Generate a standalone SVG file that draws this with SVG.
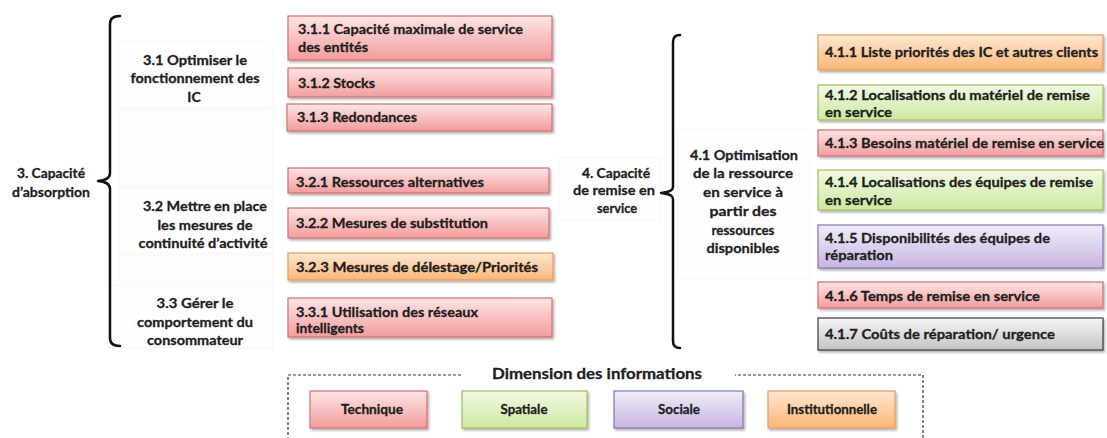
<svg xmlns="http://www.w3.org/2000/svg" width="1107" height="438" viewBox="0 0 1107 438">
<style>
text{font-family:Lato,"Open Sans","Liberation Sans",sans-serif;font-weight:bold;fill:#1e1e1e;stroke:#1e1e1e;stroke-width:0.3;}
.bt{font-size:14px;}
.lb{font-size:14px;text-anchor:middle;}
.lg{font-size:13px;text-anchor:middle;}
.tt{font-size:16px;text-anchor:middle;}
.box{stroke-width:1.2;filter:url(#sh);}
.red{fill:url(#gRed);stroke:#d36f72;}
.org{fill:url(#gOrg);stroke:#e9985a;}
.grn{fill:url(#gGrn);stroke:#9dbf62;}
.pur{fill:url(#gPur);stroke:#8a72b4;}
.gry{fill:url(#gGry);stroke:#3a3a3a;}
.brace{fill:none;stroke:#111;stroke-width:2.5;stroke-linejoin:round;stroke-linecap:round;}
.faint{fill:#fefefe;stroke:#f6f6f6;stroke-width:1;}
</style>
<defs>
<linearGradient id="gRed" x1="0" y1="0" x2="0" y2="1"><stop offset="0" stop-color="#fde4e4"/><stop offset="1" stop-color="#f29d9d"/></linearGradient>
<linearGradient id="gOrg" x1="0" y1="0" x2="0" y2="1"><stop offset="0" stop-color="#fee7d2"/><stop offset="1" stop-color="#f9b676"/></linearGradient>
<linearGradient id="gGrn" x1="0" y1="0" x2="0" y2="1"><stop offset="0" stop-color="#f1f9e4"/><stop offset="1" stop-color="#cde9a0"/></linearGradient>
<linearGradient id="gPur" x1="0" y1="0" x2="0" y2="1"><stop offset="0" stop-color="#f1edf8"/><stop offset="1" stop-color="#c6b5e2"/></linearGradient>
<linearGradient id="gGry" x1="0" y1="0" x2="0" y2="1"><stop offset="0" stop-color="#f6f6f6"/><stop offset="1" stop-color="#c4c4c4"/></linearGradient>
<filter id="sh" x="-5%" y="-20%" width="110%" height="150%"><feDropShadow dx="1.5" dy="2" stdDeviation="1.2" flood-color="#000" flood-opacity="0.3"/></filter>
</defs>
<rect width="1107" height="438" fill="#fff"/>

<g id="faint-bg">
<rect class="faint" x="118" y="42" width="154" height="66"/>
<rect class="faint" x="120" y="110" width="153" height="76"/>
<rect class="faint" x="120" y="188" width="153" height="65"/>
<rect class="faint" x="120" y="255" width="153" height="27"/>
<rect class="faint" x="108" y="285" width="165" height="63"/>
<rect class="faint" x="560" y="157" width="100" height="63"/>
<rect class="faint" x="678" y="130" width="132" height="148"/>
</g>

<g id="connectors">
<path class="brace" d="M120,16 Q110,16 110,24 L110,173 Q110,180 98,181 Q110,182 110,189 L110,338 Q110,346 120,346"/>
<path class="brace" d="M680,35 Q673,35 673,42 L673,187 Q673,192 661,193 Q673,194 673,199 L673,341 Q673,348 680,348"/>
</g>

<g id="n3">
<text class="lb" x="51" y="178" textLength="68" lengthAdjust="spacingAndGlyphs">3. Capacité</text>
<text class="lb" x="51" y="197" textLength="78" lengthAdjust="spacingAndGlyphs">d’absorption</text>
</g>
<g id="n31">
<text class="lb" x="195" y="65" textLength="104" lengthAdjust="spacingAndGlyphs">3.1 Optimiser le</text>
<text class="lb" x="195" y="83" textLength="129" lengthAdjust="spacingAndGlyphs">fonctionnement des</text>
<text class="lb" x="194" y="102">IC</text>
</g>
<g id="n32">
<text class="lb" x="205" y="211" textLength="124" lengthAdjust="spacingAndGlyphs">3.2 Mettre en place</text>
<text class="lb" x="205" y="230" textLength="95" lengthAdjust="spacingAndGlyphs">les mesures de</text>
<text class="lb" x="203" y="248" textLength="129" lengthAdjust="spacingAndGlyphs">continuité  d’activité</text>
</g>
<g id="n33">
<text class="lb" x="195" y="308" textLength="77" lengthAdjust="spacingAndGlyphs">3.3 Gérer le</text>
<text class="lb" x="195" y="327" textLength="116" lengthAdjust="spacingAndGlyphs">comportement du</text>
<text class="lb" x="195" y="345" textLength="96" lengthAdjust="spacingAndGlyphs">consommateur</text>
</g>

<g id="n311"><rect class="box red" x="288" y="16" width="264" height="44"/>
<text class="bt" x="298" y="34" textLength="225" lengthAdjust="spacingAndGlyphs">3.1.1 Capacité maximale de service</text>
<text class="bt" x="298" y="52" textLength="70" lengthAdjust="spacingAndGlyphs">des entités</text></g>
<g id="n312"><rect class="box red" x="288" y="68" width="264" height="29"/>
<text class="bt" x="298" y="88" textLength="77" lengthAdjust="spacingAndGlyphs">3.1.2 Stocks</text></g>
<g id="n313"><rect class="box red" x="287" y="104" width="265" height="27"/>
<text class="bt" x="297" y="122" textLength="120" lengthAdjust="spacingAndGlyphs">3.1.3 Redondances</text></g>
<g id="n321"><rect class="box red" x="288" y="168" width="261" height="25"/>
<text class="bt" x="296" y="187" textLength="188" lengthAdjust="spacingAndGlyphs">3.2.1 Ressources alternatives</text></g>
<g id="n322"><rect class="box red" x="288" y="208" width="261" height="30"/>
<text class="bt" x="296" y="228" textLength="192" lengthAdjust="spacingAndGlyphs">3.2.2 Mesures de substitution</text></g>
<g id="n323"><rect class="box org" x="288" y="253" width="265" height="27"/>
<text class="bt" x="296" y="272" textLength="242" lengthAdjust="spacingAndGlyphs">3.2.3 Mesures de délestage/Priorités</text></g>
<g id="n331"><rect class="box red" x="288" y="298" width="264" height="39"/>
<text class="bt" x="296" y="317" textLength="182" lengthAdjust="spacingAndGlyphs">3.3.1 Utilisation des réseaux</text>
<text class="bt" x="296" y="333" textLength="68" lengthAdjust="spacingAndGlyphs">intelligents</text></g>

<g id="n4">
<text class="lb" x="616" y="178" textLength="68" lengthAdjust="spacingAndGlyphs">4. Capacité</text>
<text class="lb" x="614" y="195" textLength="82" lengthAdjust="spacingAndGlyphs">de remise en</text>
<text class="lb" x="617" y="213" textLength="40" lengthAdjust="spacingAndGlyphs">service</text>
</g>
<g id="n41">
<text class="lb" x="744" y="160" textLength="108" lengthAdjust="spacingAndGlyphs">4.1 Optimisation</text>
<text class="lb" x="743" y="178" textLength="100" lengthAdjust="spacingAndGlyphs">de la ressource</text>
<text class="lb" x="743" y="197" textLength="80" lengthAdjust="spacingAndGlyphs">en service à</text>
<text class="lb" x="743" y="216" textLength="67" lengthAdjust="spacingAndGlyphs">partir des</text>
<text class="lb" x="743" y="235" textLength="63" lengthAdjust="spacingAndGlyphs">ressources</text>
<text class="lb" x="743" y="253" textLength="73" lengthAdjust="spacingAndGlyphs">disponibles</text>
</g>

<g id="n411"><rect class="box org" x="818" y="35" width="285" height="35"/>
<text class="bt" x="825" y="57" textLength="273" lengthAdjust="spacingAndGlyphs">4.1.1 Liste priorités des IC et autres clients</text></g>
<g id="n412"><rect class="box grn" x="818" y="85" width="285" height="35"/>
<text class="bt" x="825" y="100" textLength="265" lengthAdjust="spacingAndGlyphs">4.1.2 Localisations du matériel de remise</text>
<text class="bt" x="825" y="117" textLength="67" lengthAdjust="spacingAndGlyphs">en service</text></g>
<g id="n413"><rect class="box red" x="818" y="130" width="285" height="26"/>
<text class="bt" x="825" y="148" textLength="279" lengthAdjust="spacingAndGlyphs">4.1.3 Besoins matériel de remise en service</text></g>
<g id="n414"><rect class="box grn" x="818" y="170" width="285" height="40"/>
<text class="bt" x="825" y="187" textLength="268" lengthAdjust="spacingAndGlyphs">4.1.4 Localisations des équipes de remise</text>
<text class="bt" x="825" y="205" textLength="67" lengthAdjust="spacingAndGlyphs">en service</text></g>
<g id="n415"><rect class="box pur" x="818" y="225" width="285" height="43"/>
<text class="bt" x="825" y="243" textLength="225" lengthAdjust="spacingAndGlyphs">4.1.5 Disponibilités des équipes de</text>
<text class="bt" x="825" y="260" textLength="68" lengthAdjust="spacingAndGlyphs">réparation</text></g>
<g id="n416"><rect class="box red" x="818" y="282" width="285" height="26"/>
<text class="bt" x="825" y="301" textLength="215" lengthAdjust="spacingAndGlyphs">4.1.6 Temps de remise en service</text></g>
<g id="n417"><rect class="box gry" x="818" y="318" width="285" height="32"/>
<text class="bt" x="825" y="339" textLength="230" lengthAdjust="spacingAndGlyphs">4.1.7 Coûts de réparation/ urgence</text></g>

<g id="legend">
<path d="M288,445 L288,375 L923,375 L923,445" fill="none" stroke="#333" stroke-width="1.2" stroke-dasharray="3,2"/>
<rect x="462" y="362" width="273" height="22" fill="#fff"/>
<text class="tt" x="597" y="379" textLength="210" lengthAdjust="spacingAndGlyphs">Dimension des informations</text>
<g id="lg-tech"><rect class="box red" x="310" y="391" width="117" height="37"/>
<text class="lg" x="372" y="414" textLength="62" lengthAdjust="spacingAndGlyphs">Technique</text></g>
<g id="lg-spat"><rect class="box grn" x="462" y="391" width="125" height="37"/>
<text class="lg" x="524" y="414" textLength="47" lengthAdjust="spacingAndGlyphs">Spatiale</text></g>
<g id="lg-soc"><rect class="box pur" x="614" y="391" width="129" height="37"/>
<text class="lg" x="679" y="414" textLength="42" lengthAdjust="spacingAndGlyphs">Sociale</text></g>
<g id="lg-inst"><rect class="box org" x="768" y="391" width="127" height="37"/>
<text class="lg" x="832" y="414" textLength="90" lengthAdjust="spacingAndGlyphs">Institutionnelle</text></g>
</g>
</svg>
